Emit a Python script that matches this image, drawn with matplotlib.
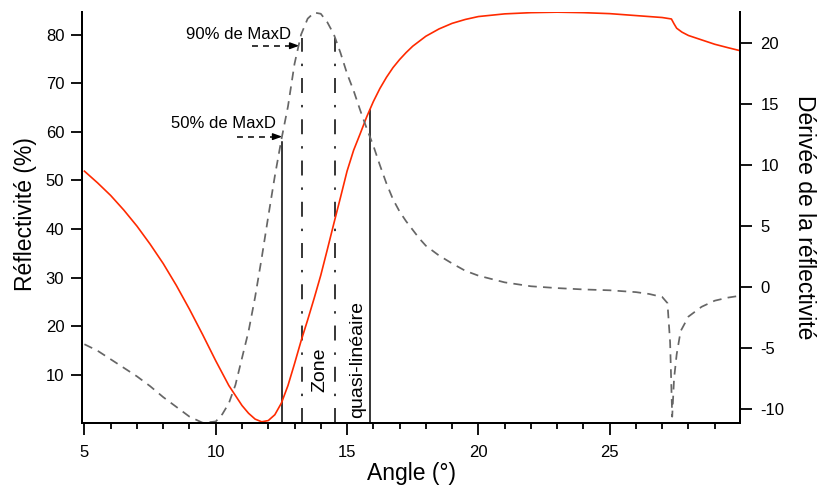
import matplotlib
matplotlib.use('Agg')
import matplotlib.pyplot as plt
from matplotlib.ticker import MultipleLocator, FixedLocator

plt.rcParams['font.family'] = ['Liberation Sans', 'DejaVu Sans']
plt.rcParams['axes.unicode_minus'] = False

# ---- data ----
angle_R = [5, 5.5, 6, 6.5, 7, 7.5, 8, 8.5, 9, 9.5, 10, 10.5, 11, 11.25, 11.5,
           11.75, 12, 12.25, 12.5, 12.75, 13, 13.25, 13.5, 13.75, 14, 14.25,
           14.5, 14.75, 15, 15.25, 15.5, 15.75, 16, 16.25, 16.5, 16.75, 17,
           17.25, 17.5, 18, 18.5, 19, 19.5, 20, 21, 22, 23, 24, 25, 26, 27,
           27.35, 27.45, 27.55, 27.75, 28, 28.5, 29, 29.5, 29.95]
reflectivity = [51.9, 49.5, 46.9, 43.9, 40.6, 36.9, 32.9, 28.4, 23.5, 18.3,
                12.9, 7.8, 3.7, 2.1, 0.9, 0.35, 0.6, 1.8, 4.2, 7.8, 12.3, 17.0,
                21.3, 25.8, 30.5, 35.8, 41.2, 46.5, 51.9, 56.2, 59.6, 63.1,
                66.2, 68.9, 71.2, 73.2, 74.85, 76.3, 77.6, 79.65, 81.15, 82.3,
                83.1, 83.7, 84.25, 84.5, 84.6, 84.5, 84.3, 83.9, 83.5, 83.2,
                82.2, 81.3, 80.5, 79.8, 78.9, 78.0, 77.3, 76.7]

angle_D = [5, 5.5, 6, 6.5, 7, 7.5, 8, 8.5, 9, 9.5, 10, 10.25, 10.5, 10.75, 11,
           11.25, 11.5, 11.75, 12, 12.25, 12.5, 12.75, 13, 13.25, 13.5, 13.75,
           14, 14.25, 14.5, 14.75, 15, 15.25, 15.5, 15.75, 16, 16.25, 16.5,
           16.75, 17, 17.25, 17.5, 17.75, 18, 18.25, 18.5, 19, 19.5, 20, 21,
           22, 23, 24, 25, 26, 26.5, 27, 27.2, 27.3, 27.38, 27.45, 27.55,
           27.7, 28, 28.5, 29, 29.5, 29.95]
derivative = [-4.67, -5.2, -5.9, -6.6, -7.3, -8.1, -9.0, -9.8, -10.6, -11.1,
              -11.0, -10.4, -9.5, -8.0, -5.8, -3.6, -0.8, 2.4, 5.8, 9.1, 12.1,
              14.8, 18.3, 20.7, 22.0, 22.5, 22.4, 21.7, 20.7, 19.2, 17.5, 16.1,
              14.5, 13.0, 11.6, 10.0, 8.5, 7.2, 6.2, 5.4, 4.7, 4.0, 3.4, 3.0,
              2.6, 1.95, 1.35, 0.95, 0.4, 0.08, -0.07, -0.18, -0.25, -0.4,
              -0.55, -0.8, -1.3, -4.5, -10.6, -7.5, -5.5, -3.6, -2.4, -1.6,
              -1.1, -0.85, -0.7]

x_ticks = [5, 10, 15, 20, 25]
left_ticks = [10, 20, 30, 40, 50, 60, 70, 80]
right_ticks = [-10, -5, 0, 5, 10, 15, 20]

marker_angles = [12.53, 13.27, 14.56, 15.87]
marker_tops = [58.0, 79.3, 79.3, 64.5]

arrow_labels = ['50% de MaxD', '90% de MaxD']
arrow_start = [10.82, 11.39]
arrow_end = [12.53, 13.18]
arrow_level = [59.0, 77.7]
label_right_x = [12.28, 12.85]
label_level = [61.6, 80.0]

# ---- figure ----
fig = plt.figure(figsize=(8.19, 4.87), dpi=100)
ax = fig.add_axes([0.1005, 0.1304, 0.8030, 0.8456])
ax2 = ax.twinx()

red = '#ff2a00'
gray = '#666666'

ax.plot(angle_R, reflectivity, color=red, lw=1.2, zorder=3)
ax2.plot(angle_D, derivative, color=gray, lw=1.25, linestyle=(0, (5.0, 3.6)))

dashdot = (0, (9.8, 7.8, 1.6, 7.8))
styles = ['-', dashdot, dashdot, '-']
for a, top, st in zip(marker_angles, marker_tops, styles):
    ax.plot([a, a], [0, top], color='black', lw=1.1, linestyle=st)

for lab, xs, xe, yl, xr, yt in zip(arrow_labels, arrow_start, arrow_end,
                                   arrow_level, label_right_x, label_level):
    ax.plot([xs, xe - 0.2], [yl, yl], color='black', lw=1.1,
            linestyle=(0, (3.9, 3.3)))
    ax.annotate('', xy=(xe, yl), xytext=(xe - 0.25, yl),
                arrowprops=dict(arrowstyle='-|>,head_length=0.55,head_width=0.2',
                                color='black', lw=1.0, shrinkA=0, shrinkB=0,
                                mutation_scale=10))
    ax.text(xr, yt, lab, ha='right', va='center', fontsize=12)

ax.text(13.95, 11.1, 'Zone', rotation=90, ha='center', va='center', fontsize=14)
ax.text(15.40, 13.2, 'quasi-linéaire', rotation=90, ha='center', va='center',
        fontsize=14)

# ---- axes ----
ax.set_xlim(4.92, 29.96)
ax.set_ylim(0, 84.7)
ax2.set_ylim(-11.16, 22.57)

ax.xaxis.set_major_locator(FixedLocator(x_ticks))
ax.xaxis.set_minor_locator(MultipleLocator(1))
ax.yaxis.set_major_locator(FixedLocator(left_ticks))
ax2.yaxis.set_major_locator(FixedLocator(right_ticks))

for a in (ax, ax2):
    a.spines['top'].set_visible(False)
    for s in ('left', 'right', 'bottom'):
        a.spines[s].set_linewidth(1.4)

ax.tick_params(axis='x', which='major', direction='out', length=8.5, width=1.3,
               labelsize=12, pad=7)
ax.tick_params(axis='x', which='minor', direction='out', length=4.3, width=1.3)
ax.tick_params(axis='y', direction='out', length=8.0, width=1.3,
               labelsize=12, pad=5)
ax2.tick_params(axis='y', direction='out', length=8.8, width=1.3,
                labelsize=12, pad=6)

W, H = 819, 487
fig.text(26 / W, 1 - 214 / H, 'Réflectivité (%)', rotation=90, ha='center',
         va='center', fontsize=16.5)
fig.text(805 / W, 1 - 217.5 / H, 'Dérivée de la réflectivité', rotation=-90,
         ha='center', va='center', fontsize=16.5)
fig.text(411.3 / W, 1 - 473.5 / H, 'Angle (°)', ha='center', va='center',
         fontsize=16.5)

fig.savefig('out.png', dpi=100)
